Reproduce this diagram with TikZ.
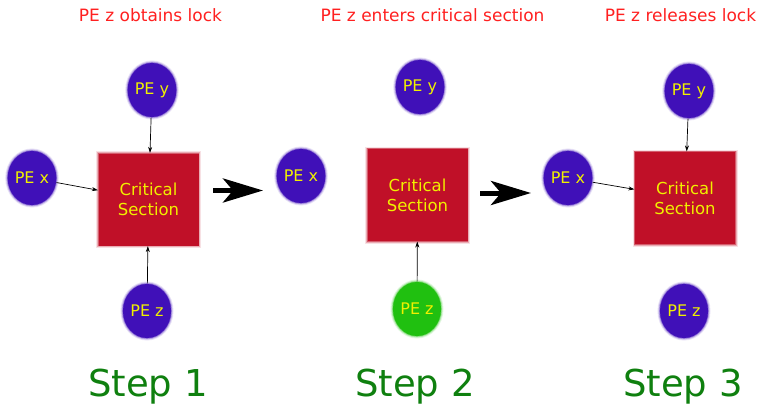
\documentclass[tikz,border=0pt]{standalone}
\usepackage{fontspec}
\setmainfont{DejaVu Sans}
\usetikzlibrary{shapes.geometric,arrows.meta}

\definecolor{peblue}{HTML}{4010B8}
\definecolor{csred}{HTML}{C01028}
\definecolor{pegreen}{HTML}{20C010}
\definecolor{labyellow}{HTML}{F0F000}
\definecolor{capred}{HTML}{FF2020}
\definecolor{stepgreen}{HTML}{0F800F}

\tikzset{
  % soft, feathered edge built from a few translucent outlines
  soft/.style={preaction={draw=#1, draw opacity=0.12, line width=5pt},
               preaction={draw=#1, draw opacity=0.25, line width=3pt},
               draw=#1, draw opacity=0.5, line width=1.2pt},
  pe/.style={ellipse, minimum width=48pt, minimum height=54pt, inner sep=0pt,
             fill=#1, soft=#1, text=labyellow,
             font=\fontsize{16}{19}\selectfont},
  pe/.default=peblue,
  cs/.style={rectangle, minimum width=100pt, minimum height=92pt, inner sep=0pt,
             fill=csred, soft=csred, text=labyellow, align=center,
             font=\fontsize{16.5}{20}\selectfont},
  link/.style={-{Stealth[length=6pt,width=4pt]}, line width=0.7pt},
  bigarrow/.style={-{Stealth[length=40pt,width=24pt,inset=10pt]}, line width=5pt},
  caption/.style={text=capred, font=\fontsize{17}{20}\selectfont, anchor=base},
  steplabel/.style={text=stepgreen, font=\fontsize{37}{40}\selectfont, anchor=base}
}

\begin{document}
\begin{tikzpicture}[x=1pt, y=-1pt]
  \useasboundingbox[fill=white] (0,0) rectangle (766,404);

  % captions
  \node[caption] (t1) at (150.5,21.5) {PE z obtains lock};
  \node[caption] (t2) at (432.5,21.5) {PE z enters critical section};
  \node[caption] (t3) at (680.5,21.5) {PE z releases lock};

  % step 1
  \node[pe] (y1) at (152,90) {PE y};
  \node[pe] (x1) at (32,178) {PE x};
  \node[cs] (cs1) at (148.5,199.5) {Critical\\Section};
  \node[pe] (z1) at (147,311) {PE z};
  \draw[link] (y1) -- (cs1);
  \draw[link] (x1) -- (cs1);
  \draw[link] (z1) -- (cs1);

  % step 2
  \node[pe] (x2) at (301,176) {PE x};
  \node[pe] (y2) at (420,87) {PE y};
  \node[cs] (cs2) at (417.5,195) {Critical\\Section};
  \node[pe=pegreen] (z2) at (417,309) {PE z};
  \draw[link] (z2) -- (cs2);

  % step 3
  \node[pe] (y3) at (689,91) {PE y};
  \node[pe] (x3) at (568,178) {PE x};
  \node[cs] (cs3) at (685,198) {Critical\\Section};
  \node[pe] (z3) at (684,311) {PE z};
  \draw[link] (y3) -- (cs3);
  \draw[link] (x3) -- (cs3);

  % transitions between steps
  \coordinate (a1s) at (213,190.5);
  \coordinate (a1e) at (263,190.5);
  \coordinate (a2s) at (480,193);
  \coordinate (a2e) at (531,193);
  \draw[bigarrow] (a1s) -- (a1e);
  \draw[bigarrow] (a2s) -- (a2e);

  % step labels
  \node[steplabel] (s1) at (148,396) {Step 1};
  \node[steplabel] (s2) at (415,396) {Step 2};
  \node[steplabel] (s3) at (683,396) {Step 3};
\end{tikzpicture}
\end{document}
